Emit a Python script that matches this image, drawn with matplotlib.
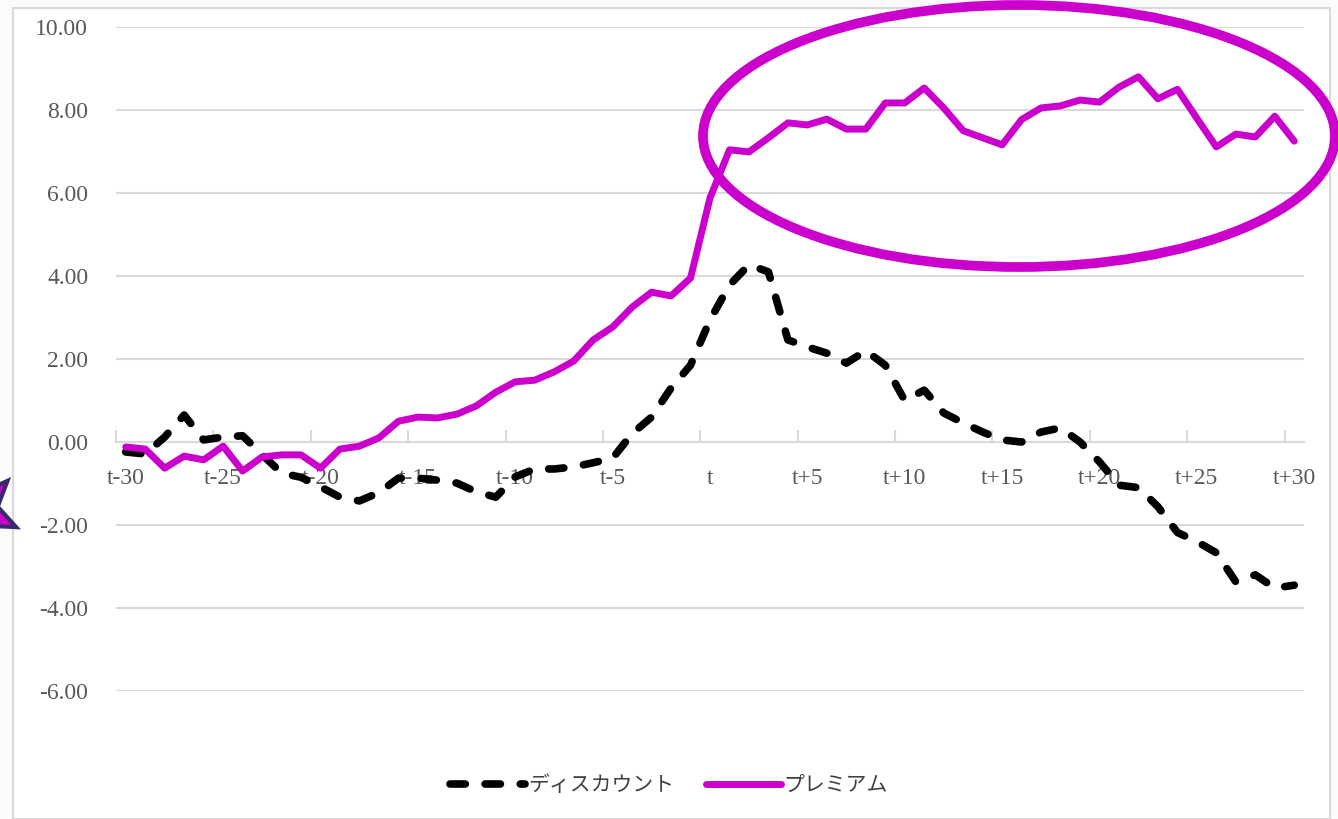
import matplotlib
matplotlib.use("Agg")
import matplotlib.pyplot as plt
from matplotlib.patches import Ellipse, Rectangle, Polygon
from matplotlib.ticker import FixedLocator, FuncFormatter
import numpy as np

plt.rcParams['font.family'] = ['Noto Sans CJK JP', 'DejaVu Sans']

# event window t-30 .. t+30
offsets = list(range(-30, 31))
labels = ['t' if k == 0 else f't{k:+d}' for k in offsets]

discount = [-0.24, -0.29, 0.12, 0.65, 0.05, 0.12, 0.15, -0.30, -0.75, -0.85,
            -1.08, -1.33, -1.42, -1.22, -0.87, -0.87, -0.92, -0.99, -1.20, -1.33,
            -0.84, -0.65, -0.65, -0.60, -0.50, -0.39, 0.20, 0.60, 1.30, 1.85,
            2.94, 3.78, 4.27, 4.10, 2.46, 2.29, 2.14, 1.90, 2.20, 1.85,
            1.00, 1.25, 0.70, 0.46, 0.24, 0.05, 0.00, 0.24, 0.34, 0.00,
            -0.48, -1.04, -1.10, -1.56, -2.18, -2.40, -2.67, -3.37, -3.20, -3.52,
            -3.45]

premium = [-0.12, -0.17, -0.63, -0.34, -0.43, -0.10, -0.70, -0.36, -0.31, -0.31,
           -0.63, -0.17, -0.10, 0.10, 0.50, 0.60, 0.58, 0.67, 0.87, 1.20,
           1.45, 1.49, 1.69, 1.95, 2.46, 2.77, 3.25, 3.61, 3.52, 3.95,
           5.88, 7.04, 6.99, 7.33, 7.69, 7.64, 7.78, 7.54, 7.54, 8.17,
           8.17, 8.53, 8.05, 7.50, 7.33, 7.16, 7.77, 8.05, 8.10, 8.24,
           8.19, 8.55, 8.80, 8.27, 8.50, 7.80, 7.11, 7.42, 7.35, 7.85,
           7.25]

W, H = 1338, 819
fig = plt.figure(figsize=(W / 100, H / 100), dpi=100)
fig.patch.set_facecolor('#FBFBFB')

# chart area frame
fig.patches.append(Rectangle((13 / W, 0), (1330 - 13) / W, 1 - 8 / H,
                             transform=fig.transFigure, facecolor='white',
                             edgecolor='#D9D9D9', lw=1.5, zorder=-5))

ax = fig.add_axes([116 / W, 1 - 691 / H, (1304 - 116) / W, (691 - 27) / H])
ax.set_facecolor('none')

x = np.arange(len(offsets))
grey = '#595959'

ax.plot(x, discount, color='black', lw=5.5, dashes=(2.0, 2.6),
        dash_capstyle='round', solid_capstyle='round', label='ディスカウント', zorder=3)
ax.plot(x, premium, color='#CC00CC', lw=5, solid_joinstyle='round',
        solid_capstyle='round', label='プレミアム', zorder=3)

ax.set_xlim(-0.5, len(offsets) - 0.5)
ax.set_ylim(-6, 10)
ax.set_yticks(np.arange(-6, 10.1, 2))
ax.yaxis.set_major_formatter(FuncFormatter(lambda v, p: f'{v:.2f}'))
ax.grid(axis='y', color='#D9D9D9', lw=1.5)
ax.set_axisbelow(True)

for s in ['left', 'right', 'top']:
    ax.spines[s].set_visible(False)
ax.spines['bottom'].set_position(('data', 0))
ax.spines['bottom'].set_color('#D9D9D9')
ax.spines['bottom'].set_linewidth(1.5)

ax.xaxis.set_major_locator(FixedLocator(x[::5]))
ax.set_xticklabels(labels[::5])
ax.xaxis.set_minor_locator(FixedLocator(x[::5] - 0.5))
ax.tick_params(axis='x', which='major', length=0, pad=19)
ax.tick_params(axis='x', which='minor', direction='in', length=9,
               width=1.5, color='#D9D9D9')
ax.tick_params(axis='y', length=0, pad=20)
for t in ax.get_xticklabels() + ax.get_yticklabels():
    t.set_fontfamily('Liberation Serif')
    t.set_fontsize(17)
    t.set_color(grey)

leg = fig.legend(loc='center', bbox_to_anchor=(0.5, 1 - 785 / H), ncol=2,
                 frameon=False, handlelength=3.6, columnspacing=1.5,
                 handletextpad=0.15, prop={'size': 15})
for t in leg.get_texts():
    t.set_color('#404040')

# highlight ring around the post-event premium
fig.patches.append(Ellipse((1019 / W, 1 - 136 / H), 632 / W, 262 / H,
                           transform=fig.transFigure, fill=False,
                           edgecolor='#CC00CC', lw=7, zorder=5))

# star decoration on the left margin
ang = np.pi / 2 + np.arange(10) * np.pi / 5
rad = np.where(np.arange(10) % 2 == 0, 40, 18)
sx = (-20 + rad * np.cos(ang + 0.5)) / W
sy = 1 - (510 - rad * np.sin(ang + 0.5)) / H
fig.patches.append(Polygon(np.column_stack([sx, sy]), closed=True,
                           transform=fig.transFigure, facecolor='#CC00CC',
                           edgecolor='#3B2A6B', lw=3, zorder=6))

fig.savefig('out.png', dpi=100)
